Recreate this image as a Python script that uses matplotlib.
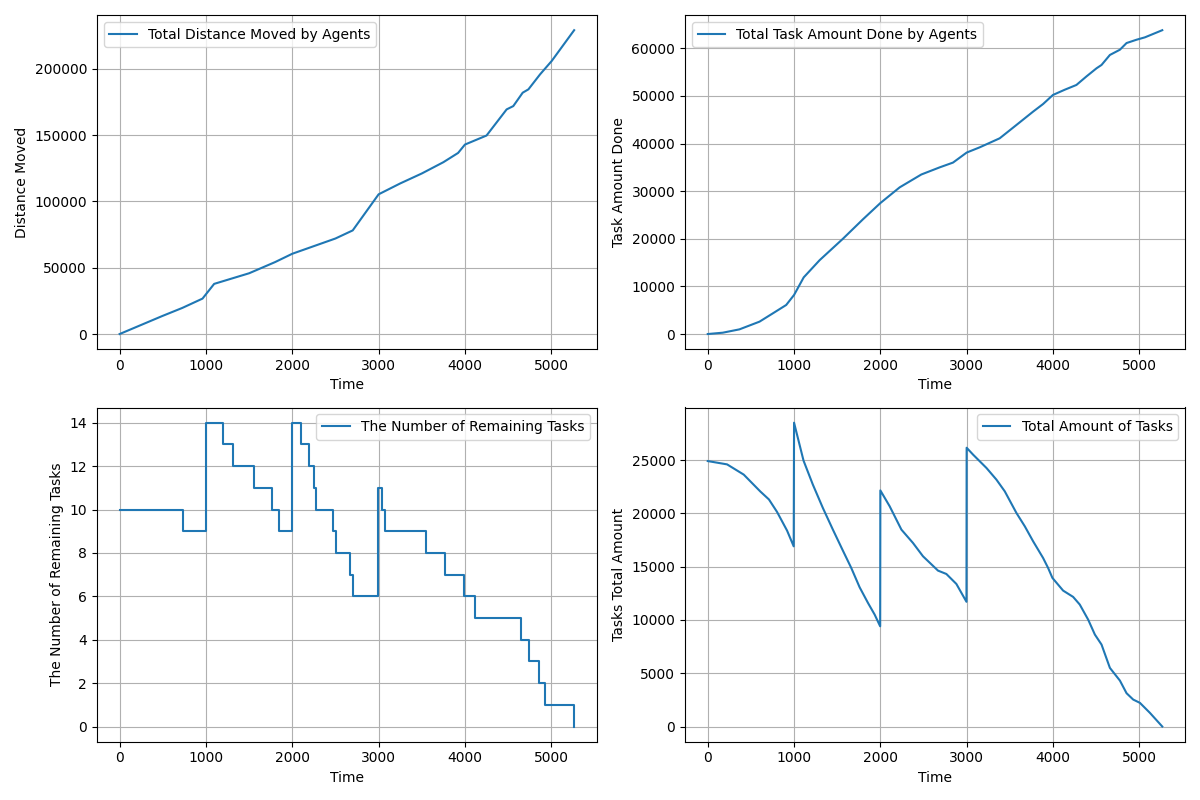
import matplotlib
matplotlib.use("Agg")
import matplotlib.pyplot as plt

# Total distance moved
dist_t = [0, 495, 727, 960, 1095, 1500, 1800, 2000, 2500, 2700, 3000, 3250, 3500, 3750, 3921,
          4000, 4250, 4483, 4560, 4669, 4735, 4870, 5005, 5265]
dist_v = [0, 13600, 19700, 26700, 37800, 45800, 54200, 60500, 72000, 78100, 105300,
          113500, 121000, 129500, 136500, 142800, 149600, 169300, 171800, 181900, 184400,
          195700, 205800, 229000]

# Total task amount done
done_t = [0, 174, 367, 600, 754, 909, 1000, 1112, 1296, 1566, 1799, 2000, 2224, 2475, 2688,
          2842, 3000, 3151, 3383, 3577, 3770, 3886, 4000, 4137, 4272, 4389, 4505, 4563, 4660,
          4776, 4853, 4969, 5066, 5267]
done_v = [0, 280, 980, 2600, 4340, 6100, 8200, 11900, 15500, 20000, 24100, 27500, 30800,
          33500, 35000, 36000, 38100, 39200, 41100, 43900, 46700, 48300, 50200, 51300, 52300,
          54100, 55800, 56500, 58600, 59700, 61100, 61800, 62300, 63800]

# Number of remaining tasks (step changes)
rem_t = [0, 732, 995, 1196, 1312, 1552, 1769, 1842, 1995, 2106, 2195, 2257, 2272, 2477, 2504,
         2663, 2698, 2995, 3043, 3078, 3554, 3767, 3991, 4115, 4653, 4739, 4855, 4928, 5265]
rem_v = [10, 9, 14, 13, 12, 11, 10, 9, 14, 13, 12, 11, 10, 9, 8,
         7, 6, 11, 10, 9, 8, 7, 6, 5, 4, 3, 2, 1, 0]

# Total amount of tasks
tot_t = [0, 224, 417, 610, 709, 803, 919, 996, 1000, 1110, 1218, 1334, 1450, 1566, 1663,
         1760, 1857, 1934, 1998, 2000, 2108, 2244, 2378, 2494, 2668, 2765, 2881, 2998, 3000,
         3075, 3230, 3345, 3442, 3577, 3674, 3770, 3886, 3944, 3994, 4118, 4234, 4311, 4408,
         4486, 4563, 4660, 4776, 4853, 4930, 5008, 5124, 5267]
tot_v = [24900, 24590, 23630, 22040, 21300, 20130, 18380, 16900, 28500, 24940, 22690,
         20500, 18470, 16500, 14875, 13060, 11590, 10500, 9400, 22150, 20660, 18470, 17220,
         15970, 14625, 14310, 13375, 11700, 26150, 25500, 24250, 23160, 22060, 20030, 18780,
         17380, 15810, 14875, 13940, 12750, 12160, 11440, 10030, 8625, 7690, 5500, 4310, 3125,
         2530, 2220, 1280, 0]

fig, axes = plt.subplots(2, 2, figsize=(12, 8), dpi=100)

ax = axes[0, 0]
ax.plot(dist_t, dist_v, label="Total Distance Moved by Agents")
ax.set_xlabel("Time")
ax.set_ylabel("Distance Moved")
ax.legend(loc="upper left")
ax.grid(True)

ax = axes[0, 1]
ax.plot(done_t, done_v, label="Total Task Amount Done by Agents")
ax.set_xlabel("Time")
ax.set_ylabel("Task Amount Done")
ax.legend(loc="upper left")
ax.grid(True)

ax = axes[1, 0]
ax.step(rem_t, rem_v, where="post", label="The Number of Remaining Tasks")
ax.set_xlabel("Time")
ax.set_ylabel("The Number of Remaining Tasks")
ax.legend(loc="upper right")
ax.grid(True)

ax = axes[1, 1]
ax.plot(tot_t, tot_v, label="Total Amount of Tasks")
ax.set_xlabel("Time")
ax.set_ylabel("Tasks Total Amount")
ax.legend(loc="upper right")
ax.grid(True)

fig.tight_layout()
fig.savefig("out.png")
